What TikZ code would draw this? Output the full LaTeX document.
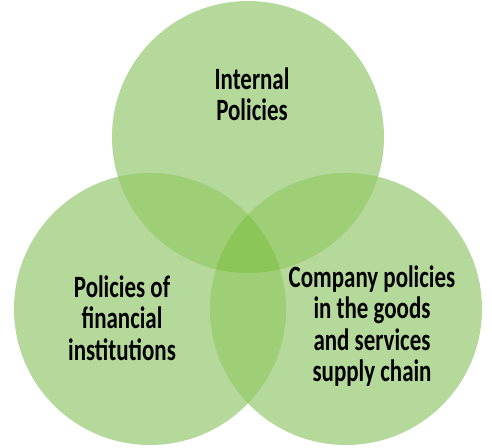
\documentclass[tikz,border=0pt]{standalone}
\usepackage{fontspec}
\setmainfont[FakeStretch=0.74]{Carlito}
\usepackage{tikz}
\usetikzlibrary{positioning}
\definecolor{einfach}{HTML}{B5D99A}
\definecolor{doppelt}{HTML}{9ECE75}
\definecolor{dreifach}{HTML}{8DC658}
\begin{document}
\begin{tikzpicture}[x=1pt,y=1pt,
  beschriftung/.style={align=center,font=\bfseries\fontsize{31}{31.5}\selectfont,inner sep=0pt}]
%Radius und Mittelpunkte der drei Kreise (in pt, Bild ist 492 x 447)
  \pgfmathsetmacro{\Rk}{136}
  \useasboundingbox (0,0) rectangle (492,447);
  \coordinate (oben) at (248,310);
  \coordinate (links) at (150,138);
  \coordinate (rechts) at (346,138);
%einfache Flaechen
\foreach \m in {oben,links,rechts}{
\fill[einfach] (\m) circle (\Rk pt);
}
%Schnitt von je zwei Kreisen, in der Mitte alle drei
\begin{scope}
  \clip (oben) circle (\Rk pt);
  \fill[doppelt] (links) circle (\Rk pt);
  \fill[doppelt] (rechts) circle (\Rk pt);
\end{scope}
\begin{scope}
  \clip (links) circle (\Rk pt);
  \fill[doppelt] (rechts) circle (\Rk pt);
  \clip (rechts) circle (\Rk pt);
  \fill[dreifach] (oben) circle (\Rk pt);
\end{scope}
\node[beschriftung] (intern) at (252,353) {Internal\\Policies};
\node[beschriftung] (finanz) at (122,129) {Policies of\\financial\\institutions};
\node[beschriftung] (kette) at (372,121) {Company policies\\in the goods\\and services\\supply chain};
\end{tikzpicture}
\end{document}
